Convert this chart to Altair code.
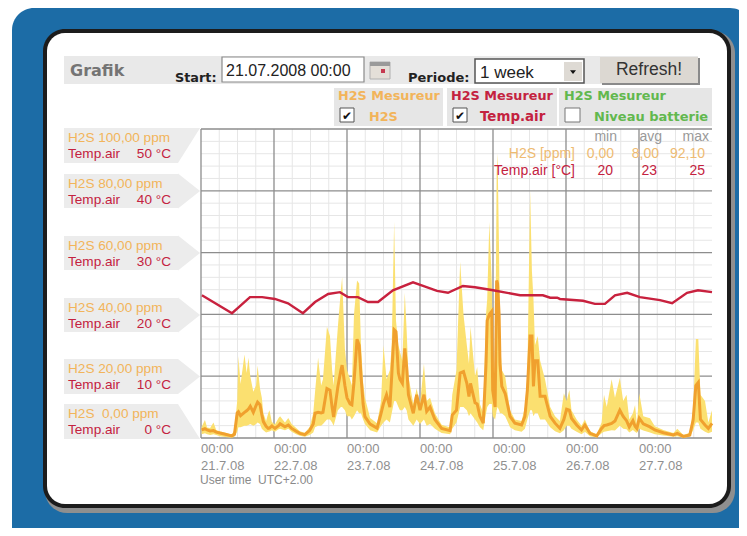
import altair as alt
import pandas as pd

PW, PH = 511, 309
OX, OY = 201, 129

hours = [0.2,1.3,2.0,3.0,4.1,5.0,6.2,8.0,10.1,11.0,11.9,12.3,13.0,14.3,15.0,15.6,16.2,17.2,18.1,18.6,19.4,20.0,20.5,21.4,22.1,22.5,23.3,
 24.3,25.5,26.0,27.6,28.7,29.8,31.3,32.5,34.1,35.7,36.9,37.5,38.5,39.5,40.1,41.4,42.4,43.1,43.6,45.0,46.0,46.4,47.3,48.0,49.0,49.6,50.3,51.3,52.0,52.6,53.3,53.9,55.6,57.9,59.2,
 60.0,61.0,62.1,62.7,63.5,64.1,64.9,65.4,66.2,67.0,67.6,68.2,69.8,70.9,72.0,73.3,74.2,75.3,76.9,79.1,81.9,82.6,84.0,85.2,86.3,87.4,88.1,88.6,90.1,90.8,91.7,92.8,93.7,94.1,94.8,95.6,95.9,96.7,97.2,97.5,98.0,98.3,98.9,100.0,101.6,103.2,105.4,106.5,107.3,108.2,108.8,109.3,109.8,110.7,111.5,113.1,114.8,116.4,118.0,
 119.3,120.2,121.1,121.8,123.5,125.1,126.2,127.9,130.1,131.7,132.5,133.4,135.0,136.1,137.7,138.8,139.9,140.8,142.0,142.7,143.3,144.1,145.4,147.6,149.2,152.0,155.3,156.6,158.6,160.7,161.8,162.7,163.5,164.2,165.7,166.8,168.0]
h2s_low = [1.2,1.5,1.2,1.0,1.2,1.0,0.6,0.3,0.1,0.4,2.0,3.5,3.5,4,4,4.2,4.5,4,4.5,5,4.5,3,2.5,1.8,2,2.1,2.5,
 2,2.8,3,2.5,3,2,1.2,0.7,0.4,1.0,1.8,3.5,4,4,4.5,6,6,5,4,9,10,10,9,7,7,6,7,9,8,8,6,4.5,2.5,1.8,4,
 5,6,5,8,12,12,10,9,9,10,9,6,4,6,4.5,6,4,4.5,3,1.6,1.2,3,5,10,10,9,7,8,6,5,3.5,2.5,8,10,11,11,7,6,9,10,9,8,8,7,3.5,2.5,2,3,6,9,9,7,8,8,6,6,3.5,2.2,1.5,
 2.5,4,4,3,2,1.2,2,0.6,0.2,1.5,2,2.2,2.5,2.4,4,3,2.8,1.8,2.6,2,1.6,3,2.4,1.8,1.2,0.8,0.4,0.6,0.1,0.4,2.5,5,5,3,2,1.5,2]
h2s_avg = [2.6,3.0,2.6,2.3,2.4,1.9,1.6,1.2,0.7,1.2,8.1,8.5,7.2,8.3,8.8,9.4,10.3,8.3,10.5,11.6,10.8,7.5,5.3,3.8,3.1,3.2,3.9,
 3.1,4,4.6,3.6,4.2,3.1,2.2,1.5,1.1,2.4,4.5,8,8.3,8.1,8.3,16,15.5,10,6.8,16.6,22,23.6,17,13,11,10.7,18,32,30,20,11,6.9,4.5,3.2,8,
 11.2,14,10,20,35,34.4,21,19,17.7,29,23,14,8,14,9,14,8.6,10,6,3.1,2.4,7.4,9,21,21.5,17.7,13.4,17.7,11.4,11,7,4.8,24,38,40,41,15.5,10,51,50,40,24,16.7,14.4,7,4.8,4.2,7,15.5,33,33,16.7,25,25,13.5,13.5,7,4.8,3.1,
 6,9.3,9,6.4,4.2,2.6,4.2,1.5,0.7,3.1,4,4.2,4.7,5.5,9,7,5.6,3.6,5.6,3.8,3.1,6.4,4.6,3.6,2.6,1.7,1,1.5,0.5,1,5.8,17,18,6,4.2,3.1,4.7]
h2s_high = [3.6,5.8,3.4,3.2,5.0,2.6,2.2,1.7,1.1,2.5,12,26.5,17.5,27,21,26,20,15,17,23.5,16,13,8,5.5,8,9,5.2,
 4.4,6.5,7,5,6.5,4.5,3.2,2.2,1.7,3.5,8,15,26,17,19,36,33,22,17,36,48,52,29,22,19,17,40,51,50,30,18,13,6.5,4.8,12,
 30,19,22,30,70,38,30,28,25,47,35,20,11,16,11,24,12,13,8,4.3,3.4,14,22,57,40,30,24,36,20,23,11,8,40,45,70,50,28,18,86,92.1,60,32,22,20,9,6,5.5,10,20,80,54,45,30,33,25,19,10,7,5.5,
 14.5,12,15.5,9,6,4,6,2.2,1.2,5,14,10,19,13,19.4,12,14,6,8,10.7,4.5,14.5,7,6.4,3.8,2.6,1.6,3,1,1.7,9,32,32,14,12,5,9]

temp_hours = [0.3,10.2,16.1,20.1,24.3,28.6,33.5,37.5,41.8,45.7,48.3,51.6,54.9,58.2,63.1,69.7,73.0,77.6,81.2,86.1,90.1,96.0,104.9,112.4,114.8,117.1,118.0,125.6,129.5,132.8,136.1,140.1,144.3,150.9,154.9,159.8,163.4,168.0]
temp_air = [23.1,20.2,22.8,22.8,22.5,21.8,20.2,22.0,23.3,23.6,22.8,22.8,22.0,22.0,23.9,25.2,24.6,23.8,23.5,24.6,24.4,23.9,23.1,23.1,22.7,22.7,22.5,22.2,21.7,21.7,23.1,23.5,22.8,22.3,21.8,23.5,23.9,23.6]

tick_dates = ["21.7.08","22.7.08","23.7.08","24.7.08","25.7.08","26.7.08","27.7.08"]
tick_times = ["00:00"] * 7
major_h = [0,24,48,72,96,120,144]
minor_h = [6,12,18,30,36,42,54,60,66,78,84,90,102,108,114,126,132,138,150,156,162]
major_y = [0,20,40,60,80,100]
minor_y = [4,8,12,16,24,28,32,36,44,48,52,56,64,68,72,76,84,88,92,96]

flag_rows = [("H2S 100,00 ppm","50 °C"),("H2S 80,00 ppm","40 °C"),("H2S 60,00 ppm","30 °C"),
             ("H2S 40,00 ppm","20 °C"),("H2S 20,00 ppm","10 °C"),("H2S\u00a0\u00a00,00 ppm","0 °C")]

ORANGE = "#f2b45a"
RED = "#c4223f"
GREEN = "#62b84e"
GRAY = "#ececec"
SANS = "Liberation Sans"
DV = "DejaVu Sans"
one = pd.DataFrame({"a": [0]})
layers = []


def rect(x1, y1, x2, y2, color, radius=0, **kw):
    layers.append(alt.Chart(one).mark_rect(color=color, cornerRadius=radius, **kw).encode(
        x=alt.value(x1 - OX), x2=alt.value(x2 - OX), y=alt.value(y1 - OY), y2=alt.value(y2 - OY)))


def txt(s, x, y, color, size=14, font=SANS, weight="normal", align="left"):
    layers.append(alt.Chart(one).mark_text(text=s, color=color, fontSize=size, font=font, fontWeight=weight,
                                           align=align, baseline="alphabetic").encode(
        x=alt.value(x - OX), y=alt.value(y - OY)))


def sym(x, y, path, size, color):
    layers.append(alt.Chart(one).mark_point(shape=path, size=size, filled=True, color=color, opacity=1, strokeWidth=0).encode(
        x=alt.value(x - OX), y=alt.value(y - OY)))


# frame
rect(12, 8, 752, 550, "#1c6ca6", 22)
rect(45, 31, 735, 513, "#8f8f8f", 22)
rect(43, 29, 731, 508, "#1c1c1c", 22)
rect(47, 33, 727, 504, "#ffffff", 18)

# header
rect(64, 56, 698, 84, "#e9e9e9")
txt("Grafik", 70, 76, "#747474", 16, DV, "bold")
txt("Start:", 175, 82, "#222222", 12.8, DV, "bold")
rect(222, 57, 364, 82, "#ffffff", stroke="#8a8a8a", strokeWidth=1.2)
txt("21.07.2008 00:00", 226, 76, "#222222", 16)
rect(370, 62, 390, 79, "#e4dfd8", stroke="#b0b0b0", strokeWidth=1)
rect(370, 62, 390, 66, "#9a9a9a")
rect(381, 69, 385, 73, "#c63a50")
txt("Periode:", 408, 82, "#222222", 13, DV, "bold")
rect(475, 59, 584, 83, "#ffffff", stroke="#555555", strokeWidth=1.5)
txt("1 week", 480, 78, "#222222", 17)
rect(564, 62, 582, 81, "#dedad4")
sym(573, 72, "M-1,-0.6L1,-0.6L0,0.7Z", 36, "#111111")
rect(602, 58, 700, 85, "#8a8a8a")
rect(600, 57, 698, 83, "#dcd8d2")
txt("Refresh!", 649, 75, "#333333", 17.5, align="center")

# legend boxes
rect(334, 88, 443, 126, "#e6e6e6")
rect(447, 88, 557, 126, "#e6e6e6")
rect(559, 88, 712, 126, "#e6e6e6")
txt("H2S Mesureur", 338, 100, ORANGE, 12.8, DV, "bold")
txt("H2S Mesureur", 451, 100, RED, 12.8, DV, "bold")
txt("H2S Mesureur", 564, 100, GREEN, 12.8, DV, "bold")
rect(340, 108, 354, 122, "#ffffff", stroke="#555555", strokeWidth=1)
rect(453, 108, 467, 122, "#ffffff", stroke="#555555", strokeWidth=1)
rect(565, 108, 580, 122, "#ffffff", stroke="#777777", strokeWidth=1)
txt("✔", 342, 120, "#111111", 12, DV)
txt("✔", 455, 120, "#111111", 12, DV)
txt("H2S", 369, 121, ORANGE, 12.8, DV, "bold")
txt("Temp.air", 480, 121, RED, 13.4, DV, "bold")
txt("Niveau batterie", 594, 121, GREEN, 13, DV, "bold")

# left flags
flag_tops = [128, 174, 236, 298, 359, 404]
flag_bottoms = [163, 208, 270, 332, 394, 439]
flag_paths = ["M0,-1L1.26,-1L0,1Z", "M0,-1L1.26,0L0,1Z", "M0,-1L1.26,0L0,1Z", "M0,-1L1.26,0L0,1Z", "M0,-1L1.26,0L0,1Z", "M0,-1L1.26,1L0,1Z"]
for (lab, deg), top, bot, path in zip(flag_rows, flag_tops, flag_bottoms, flag_paths):
    rect(64, top, 178, bot, GRAY)
    sym(178, (top + bot) / 2, path, 1225, GRAY)
    txt(lab, 68, top + 13.5, ORANGE, 13.6)
    txt("Temp.air", 68, top + 30, RED, 13.6)
    txt(deg, 171, top + 30, RED, 13.6, align="right")

hscale = alt.Scale(domain=[0, 168], nice=False, zero=False)
X = alt.X("h:Q", scale=hscale, axis=None, title=None)
Y = alt.Y("v:Q", scale=alt.Scale(domain=[0, 100], nice=False, zero=False), axis=None, title=None)

# grid
layers.append(alt.Chart(pd.DataFrame({"h": minor_h})).mark_rule(color="#e6e6e6", strokeWidth=1).encode(
    x=X, y=alt.value(0), y2=alt.value(PH)))
layers.append(alt.Chart(pd.DataFrame({"v": minor_y})).mark_rule(color="#e6e6e6", strokeWidth=1).encode(
    y=Y, x=alt.value(0), x2=alt.value(PW)))
layers.append(alt.Chart(pd.DataFrame({"h": major_h})).mark_rule(color="#8d8d8d", strokeWidth=1.3).encode(
    x=X, y=alt.value(0), y2=alt.value(PH)))
layers.append(alt.Chart(pd.DataFrame({"v": major_y})).mark_rule(color="#8d8d8d", strokeWidth=1.3).encode(
    y=Y, x=alt.value(0), x2=alt.value(PW)))

df = pd.DataFrame({"h": hours, "lo": h2s_low, "v": h2s_avg, "hi": h2s_high})
layers.append(alt.Chart(df).mark_area(color="#fbe070", opacity=1, interpolate="linear").encode(
    x=X, y=alt.Y("hi:Q", scale=alt.Scale(domain=[0, 100], nice=False, zero=False), axis=None, title=None),
    y2="lo:Q"))
layers.append(alt.Chart(df).mark_line(color="#f0a02e", strokeWidth=3).encode(x=X, y=Y))

# tick labels
ticks = pd.DataFrame({"h": major_h, "time": tick_times, "date": tick_dates})
layers.append(alt.Chart(ticks).mark_text(color="#8f8f8f", fontSize=13, font=SANS, align="left", baseline="alphabetic").encode(
    x=X, y=alt.value(453 - OY), text="time:N"))
layers.append(alt.Chart(ticks).mark_text(color="#8f8f8f", fontSize=13, font=SANS, align="left", baseline="alphabetic").encode(
    x=X, y=alt.value(470 - OY), text="date:N"))

temp_df = pd.DataFrame({"h": temp_hours, "t": temp_air})
temp_line = alt.Chart(temp_df).mark_line(color="#c8213e", strokeWidth=2.4).encode(
    x=X, y=alt.Y("t:Q", scale=alt.Scale(domain=[0, 50], nice=False, zero=False), axis=None, title=None))

# stats table, drawn above the curves
base = alt.layer(*layers).resolve_scale(y="shared")
layers = []
txt("min", 617, 141, "#999999", align="right")
txt("avg", 662, 141, "#999999", align="right")
txt("max", 709, 141, "#999999", align="right")
STAT = "#eebb72"
txt("H2S [ppm]", 575, 158, STAT, align="right")
txt("0,00", 614, 158, STAT, align="right")
txt("8,00", 659, 158, STAT, align="right")
txt("92,10", 705, 158, STAT, align="right")
txt("Temp.air [°C]", 575, 175, RED, align="right")
txt("20", 613, 175, RED, align="right")
txt("23", 657, 175, RED, align="right")
txt("25", 705, 175, RED, align="right")
txt("User time\u00a0\u00a0UTC+2.00", 200, 484, "#8a8a8a", 12)

chart = alt.layer(base, temp_line, *layers).resolve_scale(y="independent").properties(
    width=PW, height=PH,
    autosize=alt.AutoSizeParams(type="none"),
    padding={"left": 193, "top": 121, "right": 27, "bottom": 90},
    background="#ffffff",
).configure_view(stroke=None)

chart.save("out.html", embed_options={"renderer": "svg", "actions": False})
